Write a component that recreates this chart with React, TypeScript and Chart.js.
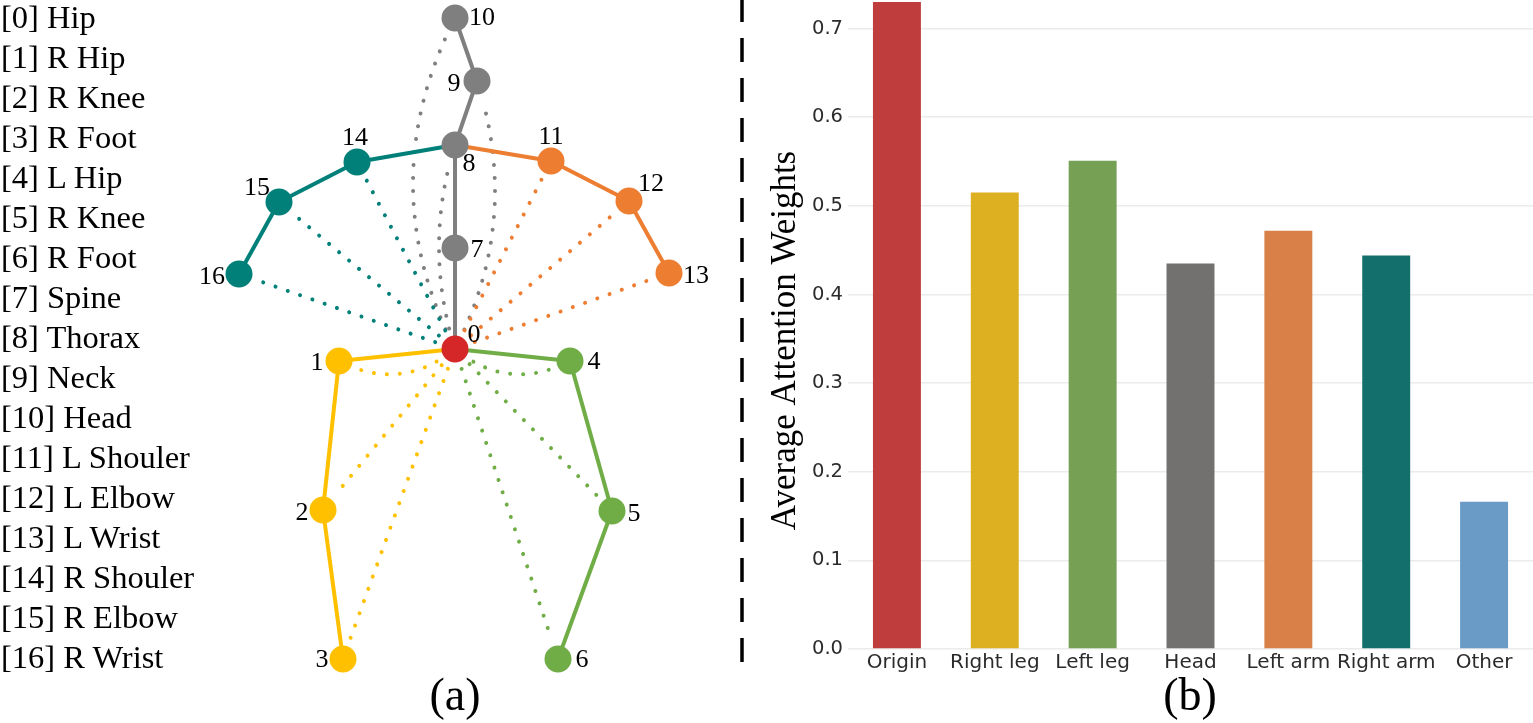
import React, { useEffect, useRef } from "react";
import { Chart, registerables } from "chart.js";

Chart.register(...registerables);

// ---------- DATA ----------
const jointNames = [
  "Hip", "R Hip", "R Knee", "R Foot", "L Hip", "R Knee", "R Foot", "Spine", "Thorax",
  "Neck", "Head", "L Shouler", "L Elbow", "L Wrist", "R Shouler", "R Elbow", "R Wrist",
];
// joint coordinates relative to the hip (x right, y up)
const jointX = [0, -116, -132, -112, 115, 157, 103, 0, 0, 22, 0, 96, 174, 214, -98, -176, -216];
const jointY = [0, -12, -161, -310, -12, -162, -310, 101, 204, 268, 331, 188, 148, 76, 187, 147, 75];
// 0 origin, 1 right leg, 2 left leg, 3 head, 4 left arm, 5 right arm
const jointGroup = [0, 1, 1, 1, 2, 2, 2, 3, 3, 3, 3, 4, 4, 4, 5, 5, 5];
const boneFrom = [0, 1, 2, 0, 4, 5, 0, 7, 8, 9, 8, 11, 12, 8, 14, 15];
const boneTo = [1, 2, 3, 4, 5, 6, 7, 8, 9, 10, 11, 12, 13, 14, 15, 16];
const attentionTargets = [1, 2, 3, 4, 5, 6, 7, 8, 9, 10, 11, 12, 13, 14, 15, 16];

const categories = ["Origin", "Right leg", "Left leg", "Head", "Left arm", "Right arm", "Other"];
const attentionWeights = [0.730, 0.515, 0.551, 0.435, 0.472, 0.444, 0.166];
const yTickLabels = ["0.0", "0.1", "0.2", "0.3", "0.4", "0.5", "0.6", "0.7"];

// ---------- STYLES ----------
const groupColors = ["#d62728", "#ffc000", "#70ad47", "#7f7f7f", "#ed7d31", "#008079"];
const barColors = ["#c03d3e", "#ddb021", "#76a154", "#737170", "#d88048", "#126f6c", "#6a9ac6"];
// sideways bend (px) of the dotted attention links at their midpoint
const linkBend: Record<number, number> = { 1: -19, 4: 19, 8: -16, 9: 28, 10: -42 };
// joint label offsets (px)
const labelDX = [19, -22, -21, -21, 24, 22, 24, 22, 14, -23, 27, 0, 22, 27, -2, -22, -27];
const labelDY = [-15, 1, 2, 0, 0, 2, 0, 1, 18, 2, -1, -25, -18, 2, -25, -15, 2];

const SERIF = "'Liberation Serif', 'Times New Roman', serif";

const skeletonPlugin = {
  id: "skeletonDecor",
  beforeDatasetsDraw(chart: any) {
    const { ctx, scales } = chart;
    const xs = scales.x;
    const ys = scales.y;
    const px = (i: number) => xs.getPixelForValue(jointX[i]);
    const py = (i: number) => ys.getPixelForValue(jointY[i]);
    ctx.save();
    ctx.lineCap = "round";
    ctx.lineWidth = 4;
    ctx.setLineDash([0.001, 13]);
    attentionTargets.forEach((j) => {
      const x0 = px(0), y0 = py(0), x1 = px(j), y1 = py(j);
      const dx = x1 - x0, dy = y1 - y0;
      const len = Math.hypot(dx, dy);
      const nx = -dy / len, ny = dx / len;
      const bend = linkBend[j] ?? 0;
      const cx = (x0 + x1) / 2 + nx * bend * 2;
      const cy = (y0 + y1) / 2 + ny * bend * 2;
      const s0 = 8 / len;
      const s1 = 1 - 20 / len;
      ctx.strokeStyle = groupColors[jointGroup[j]];
      ctx.beginPath();
      const steps = 80;
      for (let k = 0; k <= steps; k++) {
        const t = s0 + ((s1 - s0) * k) / steps;
        const a = (1 - t) * (1 - t), b = 2 * (1 - t) * t, c = t * t;
        const qx = a * x0 + b * cx + c * x1;
        const qy = a * y0 + b * cy + c * y1;
        if (k === 0) ctx.moveTo(qx, qy);
        else ctx.lineTo(qx, qy);
      }
      ctx.stroke();
    });
    ctx.restore();
  },
  afterDatasetsDraw(chart: any) {
    const { ctx, scales } = chart;
    const xs = scales.x;
    const ys = scales.y;
    ctx.save();
    ctx.fillStyle = "#000";
    ctx.font = `26px ${SERIF}`;
    ctx.textAlign = "center";
    ctx.textBaseline = "middle";
    jointX.forEach((_, i) => {
      const x = xs.getPixelForValue(jointX[i]) + labelDX[i];
      const y = ys.getPixelForValue(jointY[i]) + labelDY[i];
      ctx.fillText(String(i), x, y + 1);
    });
    // dashed separator between the two panels
    ctx.strokeStyle = "#000";
    ctx.lineWidth = 3.5;
    ctx.setLineDash([24, 16]);
    ctx.lineDashOffset = 2;
    ctx.beginPath();
    ctx.moveTo(742, 0);
    ctx.lineTo(742, 676);
    ctx.stroke();
    ctx.restore();
  },
};

const yTitlePlugin = {
  id: "yTitle",
  afterDraw(chart: any) {
    const { ctx, chartArea } = chart;
    ctx.save();
    ctx.translate(chartArea.left - 62, (chartArea.top + chartArea.bottom) / 2 + 15);
    ctx.rotate(-Math.PI / 2);
    ctx.fillStyle = "#000";
    ctx.font = `35px ${SERIF}`;
    ctx.textAlign = "center";
    ctx.textBaseline = "middle";
    ctx.fillText("Average Attention Weights", 0, 0);
    ctx.restore();
  },
};

export default function App() {
  const leftRef = useRef<HTMLCanvasElement>(null);
  const rightRef = useRef<HTMLCanvasElement>(null);

  useEffect(() => {
    const bones = boneFrom.map((f, i) => ({
      data: [
        { x: jointX[f], y: jointY[f] },
        { x: jointX[boneTo[i]], y: jointY[boneTo[i]] },
      ],
      showLine: true,
      borderColor: groupColors[jointGroup[boneTo[i]]],
      borderWidth: 4,
      pointRadius: 0,
      pointHoverRadius: 0,
      order: 1,
      clip: false as any,
    }));
    const joints = {
      data: jointX.map((x, i) => ({ x, y: jointY[i] })),
      pointRadius: 13.5,
      pointHoverRadius: 13.5,
      pointBackgroundColor: jointGroup.map((g) => groupColors[g]),
      pointBorderWidth: 0,
      borderWidth: 0,
      order: 0,
      clip: false as any,
    };
    const left = new Chart(leftRef.current!, {
      type: "scatter",
      data: { datasets: [joints as any, ...(bones as any)] },
      options: {
        animation: false,
        responsive: false,
        events: [],
        layout: { padding: 0, autoPadding: false },
        plugins: { legend: { display: false }, tooltip: { enabled: false } },
        scales: {
          x: { type: "linear", min: -455, max: 295, display: false },
          y: { type: "linear", min: -374, max: 349, display: false },
        },
      },
      plugins: [skeletonPlugin],
    });

    const right = new Chart(rightRef.current!, {
      type: "bar",
      data: {
        labels: categories,
        datasets: [
          {
            data: attentionWeights,
            backgroundColor: barColors,
            barPercentage: 0.49,
            categoryPercentage: 1,
          },
        ],
      },
      options: {
        animation: false,
        responsive: false,
        events: [],
        layout: { padding: { top: 2, left: 0, right: 0, bottom: 0 } },
        plugins: { legend: { display: false }, tooltip: { enabled: false } },
        scales: {
          x: {
            grid: { display: false, drawTicks: false },
            border: { display: false },
            ticks: {
              color: "#2b2b2b",
              font: { family: "'DejaVu Sans', sans-serif", size: 20 },
              padding: 2,
              maxRotation: 0,
              autoSkip: false,
            },
          },
          y: {
            min: 0,
            max: 0.73,
            grid: { color: "#ebebeb", lineWidth: 1.5, drawTicks: false },
            border: { display: false },
            ticks: {
              stepSize: 0.1,
              includeBounds: false,
              color: "#2b2b2b",
              font: { family: "'DejaVu Sans', sans-serif", size: 19.5 },
              padding: 5,
              callback: (_v: any, idx: number) => yTickLabels[idx],
            },
            afterFit: (s: any) => {
              s.width = 103;
              s.paddingTop = 0;
              s.paddingBottom = 0;
            },
          },
        },
      },
      plugins: [yTitlePlugin],
    });

    return () => {
      left.destroy();
      right.destroy();
    };
  }, []);

  return (
    <div
      style={{
        position: "fixed",
        left: 0,
        top: 0,
        width: 1533,
        height: 723,
        background: "#fff",
        overflow: "hidden",
      }}
    >
      <canvas
        ref={leftRef}
        width={750}
        height={723}
        style={{ position: "absolute", left: 0, top: 0, width: 750, height: 723 }}
      />
      <canvas
        ref={rightRef}
        width={788}
        height={677}
        style={{ position: "absolute", left: 745, top: 0, width: 788, height: 677 }}
      />
      <div
        style={{
          position: "absolute",
          left: 1,
          top: -3,
          fontFamily: SERIF,
          fontSize: 32.5,
          lineHeight: "40px",
          color: "#000",
          whiteSpace: "nowrap",
        }}
      >
        {jointNames.map((n, i) => (
          <div key={i}>{`[${i}] ${n}`}</div>
        ))}
      </div>
      <div
        style={{
          position: "absolute",
          left: 405,
          width: 100,
          top: 672,
          textAlign: "center",
          fontFamily: SERIF,
          fontSize: 46,
          lineHeight: "46px",
          color: "#000",
        }}
      >
        (a)
      </div>
      <div
        style={{
          position: "absolute",
          left: 1140,
          width: 100,
          top: 672,
          textAlign: "center",
          fontFamily: SERIF,
          fontSize: 46,
          lineHeight: "46px",
          color: "#000",
        }}
      >
        (b)
      </div>
    </div>
  );
}
